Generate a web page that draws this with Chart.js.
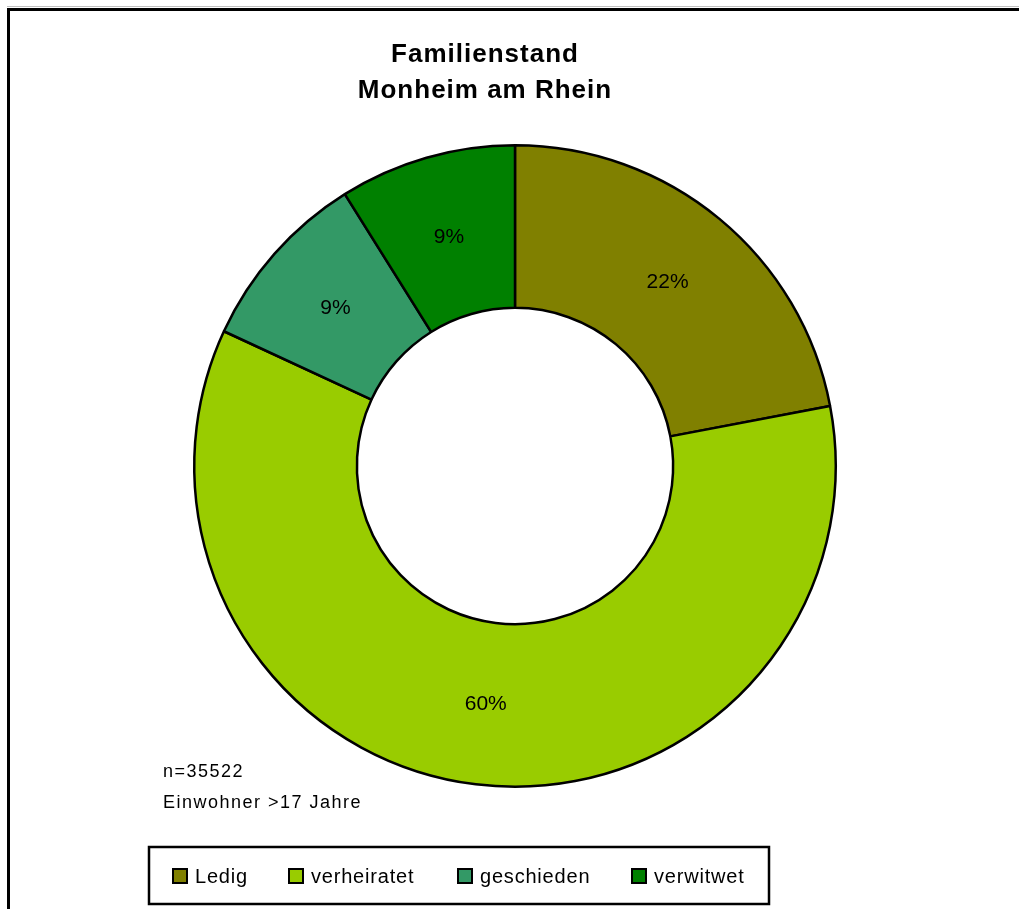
<!DOCTYPE html>
<html>
<head>
<meta charset="utf-8">
<script src="https://cdn.jsdelivr.net/npm/chart.js@4"></script>
<style>
  html, body { margin: 0; padding: 0; background: #fff; }
  canvas { display: block; }
</style>
</head>
<body>
<canvas id="c" width="1019" height="909"></canvas>
<script>
const titleLines = ['Familienstand', 'Monheim am Rhein'];
const categories = ['Ledig', 'verheiratet', 'geschieden', 'verwitwet'];
const shares = [22.0, 59.9, 9.2, 8.9];
const sliceColors = ['#808000', '#99CC00', '#339966', '#008000'];
const noteLines = ['n=35522', 'Einwohner >17 Jahre'];

const FONT = '"Liberation Sans", Arial, sans-serif';

const decor = {
  id: 'decor',
  beforeDraw(chart) {
    const ctx = chart.ctx;
    ctx.save();
    ctx.fillStyle = '#fff';
    ctx.fillRect(0, 0, chart.width, chart.height);
    ctx.restore();
  },
  afterDraw(chart) {
    const ctx = chart.ctx;
    ctx.save();
    // frame (top and left edges visible)
    ctx.fillStyle = '#c0c0c0';
    ctx.fillRect(7, 6, chart.width - 7, 1);
    ctx.fillStyle = '#000';
    ctx.fillRect(7, 8, chart.width - 7, 3);
    ctx.fillRect(7, 8, 3, chart.height - 8);

    // title
    ctx.fillStyle = '#000';
    ctx.textAlign = 'center';
    ctx.textBaseline = 'alphabetic';
    ctx.font = 'bold 26px ' + FONT;
    if ('letterSpacing' in ctx) ctx.letterSpacing = '1px';
    ctx.fillText(titleLines[0], 485, 62);
    ctx.fillText(titleLines[1], 485, 98);

    // percentage labels
    if ('letterSpacing' in ctx) ctx.letterSpacing = '0px';
    ctx.font = '21px ' + FONT;
    ctx.textBaseline = 'middle';
    const meta = chart.getDatasetMeta(0);
    const data = chart.data.datasets[0].data;
    const total = data.reduce((a, b) => a + b, 0);
    meta.data.forEach((arc, i) => {
      const p = arc.tooltipPosition();
      const pct = Math.round(data[i] / total * 100) + '%';
      ctx.fillText(pct, p.x, p.y + 1);
    });

    // note
    ctx.textAlign = 'left';
    ctx.textBaseline = 'alphabetic';
    ctx.font = '18px ' + FONT;
    if ('letterSpacing' in ctx) ctx.letterSpacing = '1.5px';
    ctx.fillText(noteLines[0], 163, 777);
    ctx.fillText(noteLines[1], 163, 808);

    // legend box
    ctx.lineWidth = 2.5;
    ctx.strokeStyle = '#000';
    ctx.strokeRect(149, 847, 620, 57);
    const itemX = [173, 289, 458, 632];
    ctx.font = '20px ' + FONT;
    if ('letterSpacing' in ctx) ctx.letterSpacing = '0.8px';
    ctx.textBaseline = 'middle';
    chart.data.labels.forEach((lab, i) => {
      const x = itemX[i];
      ctx.fillStyle = chart.data.datasets[0].backgroundColor[i];
      ctx.fillRect(x, 869, 14, 14);
      ctx.lineWidth = 2;
      ctx.strokeRect(x, 869, 14, 14);
      ctx.fillStyle = '#000';
      ctx.fillText(lab, x + 22, 877);
    });
    ctx.restore();
  }
};

new Chart(document.getElementById('c'), {
  type: 'doughnut',
  data: {
    labels: categories,
    datasets: [{
      data: shares,
      backgroundColor: sliceColors,
      borderColor: '#000',
      borderWidth: 2.5,
      hoverOffset: 0
    }]
  },
  options: {
    responsive: false,
    animation: false,
    cutout: '49.3%',
    layout: { padding: { left: 193, top: 144, right: 182, bottom: 121 } },
    plugins: {
      legend: { display: false },
      title: { display: false },
      tooltip: { enabled: false }
    },
    events: []
  },
  plugins: [decor]
});
</script>
</body>
</html>
